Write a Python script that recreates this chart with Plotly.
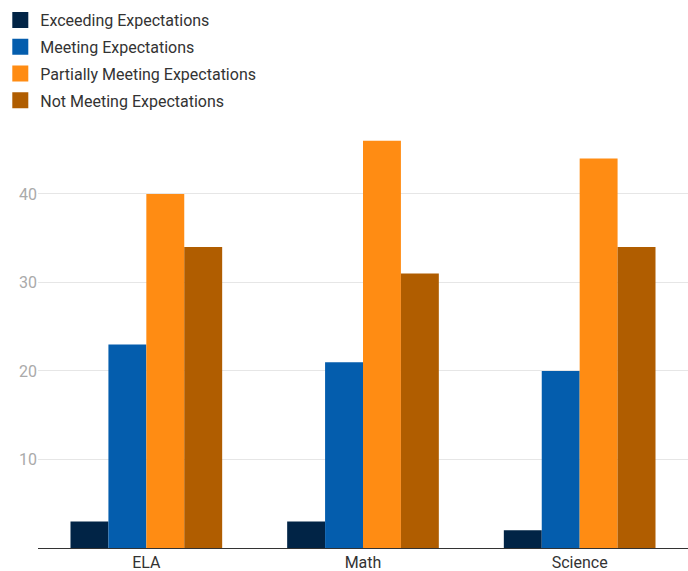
import plotly.graph_objects as go

subjects = ["ELA", "Math", "Science"]
levels = ["Exceeding Expectations", "Meeting Expectations",
          "Partially Meeting Expectations", "Not Meeting Expectations"]
exceeding = [3, 3, 2]
meeting = [23, 21, 20]
partially = [40, 46, 44]
not_meeting = [34, 31, 34]
colors = ["#012446", "#045DAD", "#FF8C13", "#B05D00"]
y_ticks = [10, 20, 30, 40]

series = [exceeding, meeting, partially, not_meeting]

fig = go.Figure()
for name, vals, col in zip(levels, series, colors):
    fig.add_trace(go.Bar(x=subjects, y=vals, name=name, marker_color=col,
                         marker_line_width=0, showlegend=False))
# square swatches for the legend, one group each so the row gap can be set
for name, col in zip(levels, colors):
    fig.add_trace(go.Scatter(x=[None], y=[None], mode="markers", name=name,
                             legendgroup=name,
                             marker=dict(symbol="square", size=16, color=col,
                                         line=dict(width=0))))

W, H = 688, 571
left, right, top, bottom = 36, 0, 132, 23
fig.update_layout(
    width=W, height=H,
    margin=dict(l=left, r=right, t=top, b=bottom, pad=0),
    paper_bgcolor="white", plot_bgcolor="white",
    font=dict(family="Roboto", size=16, color="#333333"),
    barmode="group", bargap=0.30, bargroupgap=0,
    showlegend=True,
    legend=dict(x=-0.058, y=1.31, xanchor="left", yanchor="top",
                font=dict(size=16, color="#333333"), itemsizing="trace",
                itemwidth=30, bgcolor="rgba(0,0,0,0)", tracegroupgap=3),
    xaxis=dict(showgrid=False, showline=True, linecolor="#333333", linewidth=1,
               ticks="", ticklabelstandoff=0, automargin=False,
               tickfont=dict(size=16, color="#333333")),
    yaxis=dict(range=[0, 47], tickvals=y_ticks, showgrid=True,
               gridcolor="#e6e6e6", gridwidth=1, zeroline=False,
               showline=False, ticks="", automargin=False,
               tickfont=dict(size=16, color="#aaaaaa")),
)

fig.write_html("out.html")
